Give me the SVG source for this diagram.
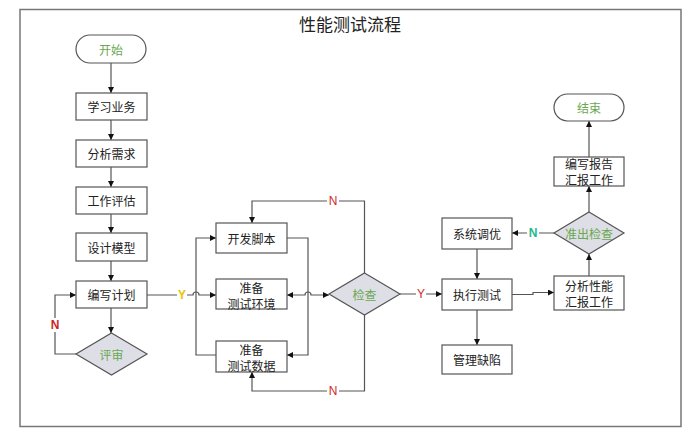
<svg xmlns="http://www.w3.org/2000/svg" width="700" height="437" viewBox="0 0 700 437">
<defs>
<marker id="ah" viewBox="0 0 10 10" refX="10" refY="5" markerWidth="6" markerHeight="6" orient="auto-start-reverse" markerUnits="userSpaceOnUse">
<path d="M0,0 L10,5 L0,10 z" fill="#111"/>
</marker>
<style>
.box{fill:#fff;stroke:#555;stroke-width:1.2}
.dia{fill:#dedee6;stroke:#555;stroke-width:1.2}
.t{font-family:"Noto Sans CJK SC","Noto Sans",sans-serif;font-size:12px;fill:#222;text-anchor:middle;dominant-baseline:central}
.g{fill:#6aa84f}
.c{fill:none;stroke:#555;stroke-width:1.2}
.a{marker-end:url(#ah)}
.lbl{font-family:"Liberation Sans",Arial,sans-serif;font-size:12px;text-anchor:middle;dominant-baseline:central}
.bg{fill:#fff}
</style>
</defs>
<rect x="0" y="0" width="700" height="437" fill="#fff"/>
<rect x="20" y="9.5" width="661" height="417" fill="none" stroke="#777" stroke-width="1.5"/>
<text x="350" y="23" class="t" style="font-size:17px">性能测试流程</text>

<g id="connectors">
<path class="c a" d="M111,63 V93"/>
<path class="c a" d="M111,120 V140"/>
<path class="c a" d="M111,167 V187"/>
<path class="c a" d="M111,214 V233"/>
<path class="c a" d="M111,261 V281"/>
<path class="c a" d="M111,308 V333"/>
<path class="c a" d="M76,354 H55 V295 H76"/>
<path class="c a" d="M147,295 H193 a3,3 0 0 1 6,0 H216"/>
<path class="c a" d="M216,355 H196 V238 H216"/>
<path class="c a" d="M287,238 H308 V355 H287"/>
<path class="c" d="M287,295 H305 a3,3 0 0 1 6,0 H329" marker-start="url(#ah)" marker-end="url(#ah)"/>
<path class="c a" d="M364.5,273 V201 H252 V223"/>
<path class="c a" d="M364.5,315 V391 H252 V372"/>
<path class="c a" d="M400,294 H442"/>
<path class="c a" d="M477,249 V279"/>
<path class="c a" d="M477,310 V345"/>
<path class="c a" d="M512,294.5 H533 V292.5 H554"/>
<path class="c a" d="M589,276 V254"/>
<path class="c a" d="M554,233 H512"/>
<path class="c a" d="M589,212 V186"/>
<path class="c a" d="M589,157 V121"/>
<rect class="bg" x="49" y="318" width="12" height="14"/>
<text x="55" y="325" class="lbl" style="fill:#cc1f1f;font-weight:bold">N</text>
<rect class="bg" x="177" y="288" width="10" height="14"/>
<text x="182" y="295" class="lbl" style="fill:#e8c400;font-weight:bold">Y</text>
<rect class="bg" x="327" y="194" width="12" height="14"/>
<text x="333" y="201" class="lbl" style="fill:#cc2a2a">N</text>
<rect class="bg" x="327" y="384" width="12" height="14"/>
<text x="333" y="391" class="lbl" style="fill:#cc2a2a">N</text>
<rect class="bg" x="416" y="287" width="10" height="14"/>
<text x="421" y="294" class="lbl" style="fill:#cc2a2a">Y</text>
<rect class="bg" x="527" y="226" width="12" height="14"/>
<text x="533" y="233" class="lbl" style="fill:#22b890;font-weight:bold">N</text>
</g>

<g id="start"><rect class="box" x="76" y="35" width="70" height="28" rx="14"/><text x="111" y="49" class="t g">开始</text></g>
<g id="learn"><rect class="box" x="76" y="93" width="71" height="27"/><text x="111.5" y="106.5" class="t">学习业务</text></g>
<g id="analyze"><rect class="box" x="76" y="140" width="71" height="27"/><text x="111.5" y="153.5" class="t">分析需求</text></g>
<g id="estimate"><rect class="box" x="76" y="187" width="71" height="27"/><text x="111.5" y="200.5" class="t">工作评估</text></g>
<g id="model"><rect class="box" x="76" y="233" width="71" height="28"/><text x="111.5" y="247" class="t">设计模型</text></g>
<g id="plan"><rect class="box" x="76" y="281" width="71" height="27"/><text x="111.5" y="294.5" class="t">编写计划</text></g>
<g id="review"><polygon class="dia" points="111.5,333 147,354 111.5,375 76,354"/><text x="111.5" y="354" class="t g">评审</text></g>
<g id="script"><rect class="box" x="216" y="223" width="71" height="30"/><text x="251.5" y="238" class="t">开发脚本</text></g>
<g id="env"><rect class="box" x="216" y="279" width="71" height="30"/><text x="251.5" y="287" class="t">准备</text><text x="251.5" y="303" class="t">测试环境</text></g>
<g id="data"><rect class="box" x="216" y="341" width="71" height="31"/><text x="251.5" y="349" class="t">准备</text><text x="251.5" y="365" class="t">测试数据</text></g>
<g id="check"><polygon class="dia" points="364.5,273 400,294 364.5,315 329,294"/><text x="364.5" y="294" class="t g">检查</text></g>
<g id="tune"><rect class="box" x="442" y="218" width="70" height="31"/><text x="477" y="233.5" class="t">系统调优</text></g>
<g id="exec"><rect class="box" x="442" y="279" width="70" height="31"/><text x="477" y="294.5" class="t">执行测试</text></g>
<g id="defect"><rect class="box" x="442" y="345" width="70" height="29"/><text x="477" y="359.5" class="t">管理缺陷</text></g>
<g id="perf"><rect class="box" x="554" y="276" width="70" height="34"/><text x="589" y="285" class="t">分析性能</text><text x="589" y="301" class="t">汇报工作</text></g>
<g id="exitcheck"><polygon class="dia" points="589,212 624,233 589,254 554,233"/><text x="589" y="233" class="t g">准出检查</text></g>
<g id="report"><rect class="box" x="554" y="157" width="70" height="29"/><text x="589" y="163.5" class="t">编写报告</text><text x="589" y="179" class="t">汇报工作</text></g>
<g id="end"><rect class="box" x="554" y="94" width="70" height="27" rx="13.5"/><text x="589" y="107.5" class="t g">结束</text></g>
</svg>
